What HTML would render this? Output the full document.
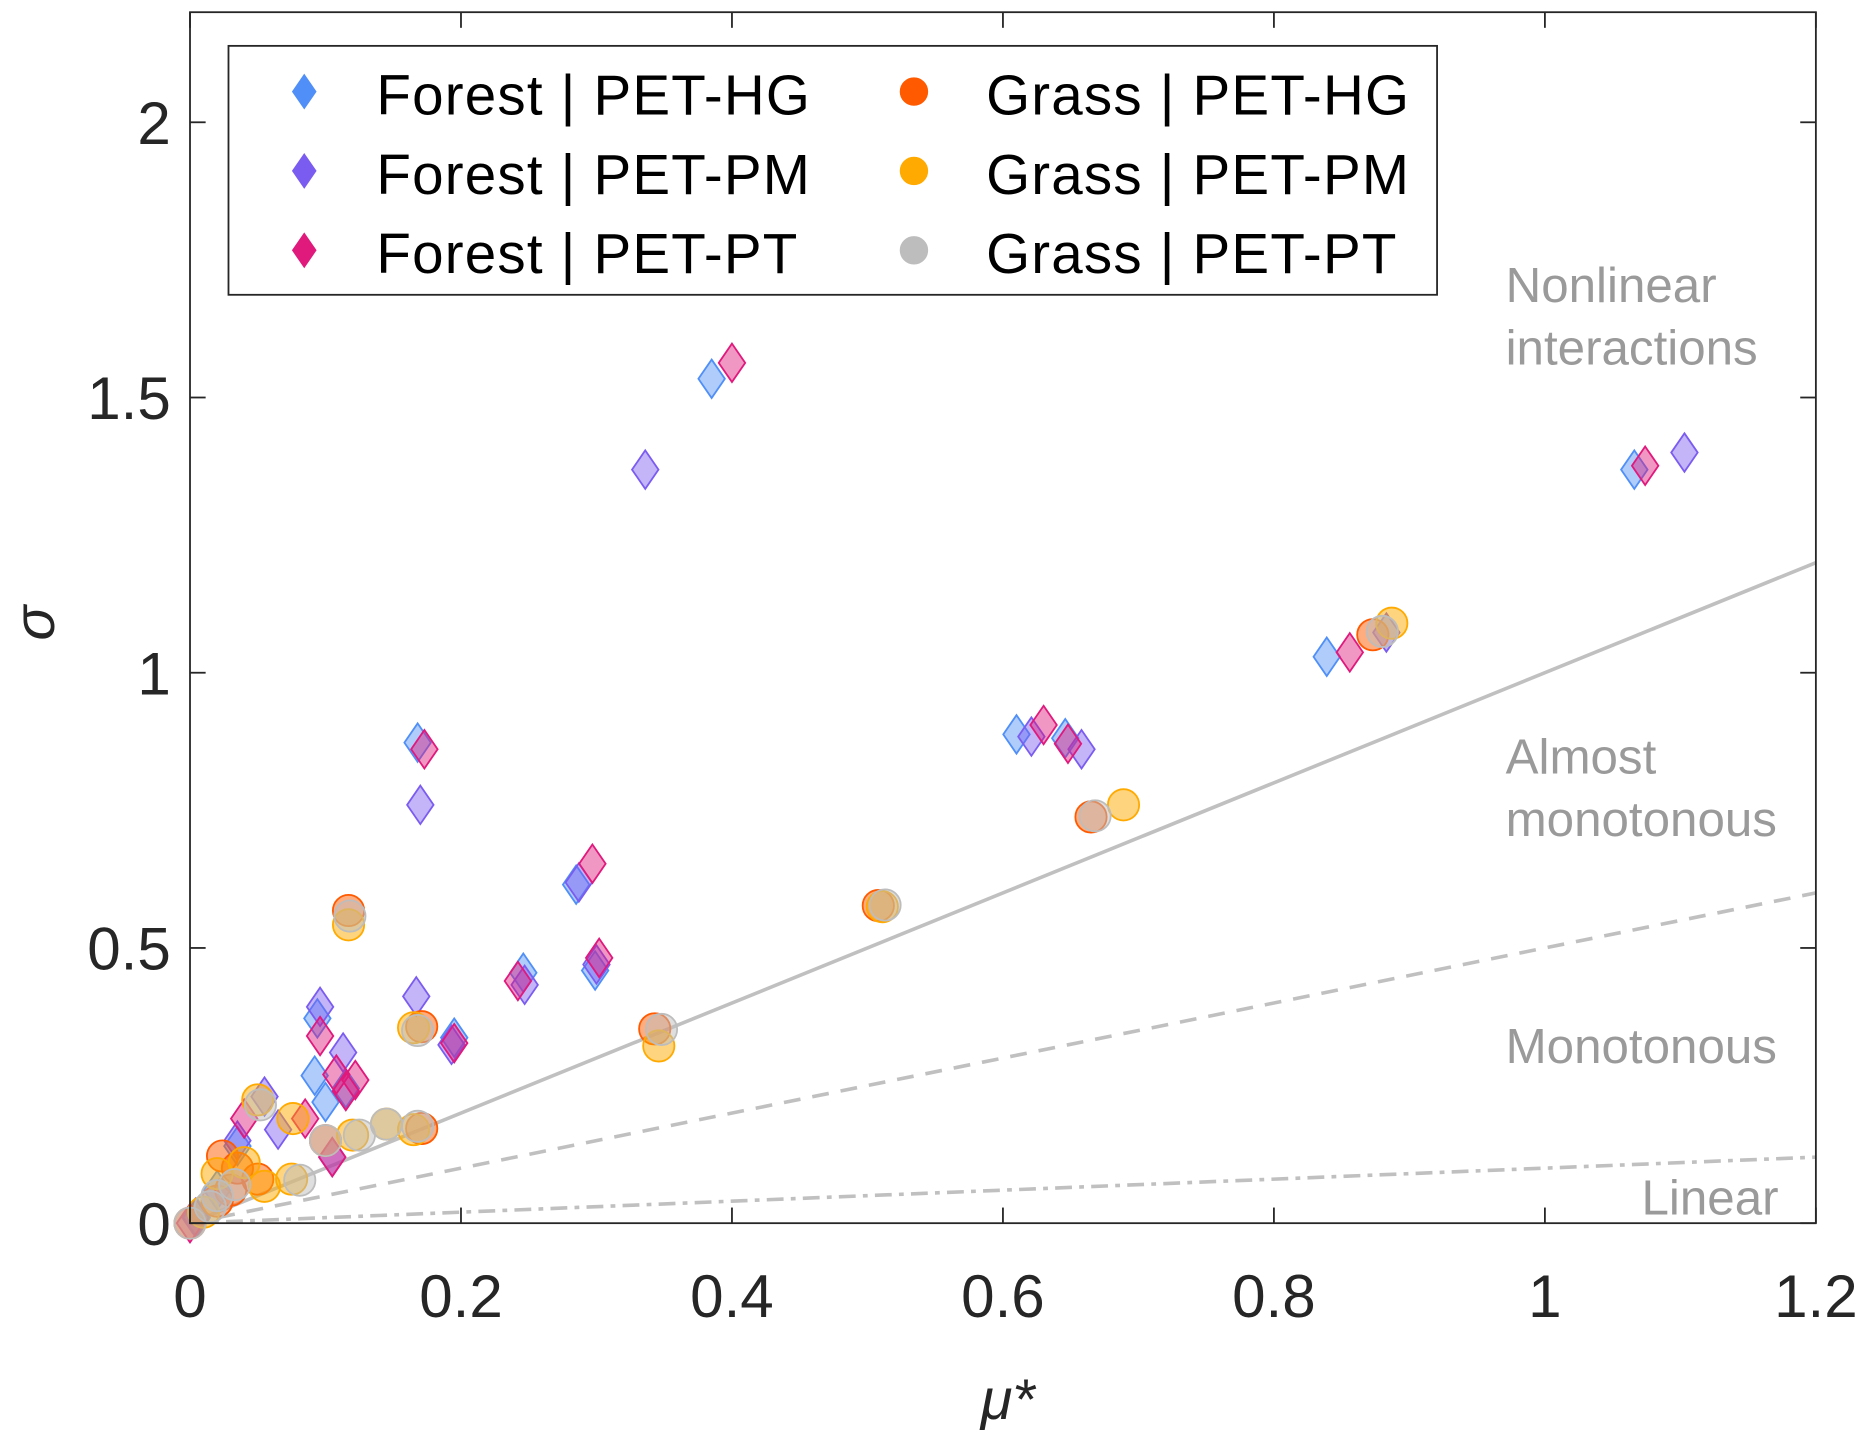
<!DOCTYPE html>
<html><head><meta charset="utf-8"><style>
html,body{margin:0;padding:0;background:#fff}
svg{display:block;font-family:"Liberation Sans",sans-serif}
</style></head><body>
<svg id="chart" width="1876" height="1435" viewBox="0 0 1560 1193" xmlns="http://www.w3.org/2000/svg">
<rect x="0" y="0" width="1560" height="1193" fill="#fff"/>
<g id="refLines"></g>
<g id="regionLabels" fill="#9a9a9a" font-size="41">
<text x="1252" y="251">Nonlinear</text>
<text x="1252" y="303">interactions</text>
<text x="1252" y="643">Almost</text>
<text x="1252" y="695">monotonous</text>
<text x="1252" y="884">Monotonous</text>
<text x="1365" y="1010">Linear</text>
</g>
<g id="marks"></g>
<g id="axes"></g>
<g id="legend"></g>
<text x="838" y="1180" font-size="48" font-style="italic" text-anchor="middle" fill="#262626">μ*</text>
<text transform="translate(45,518) rotate(-90)" font-size="48" font-style="italic" text-anchor="middle" fill="#262626">σ</text>
</svg>
<script>
const xTicks = [0, 0.2, 0.4, 0.6, 0.8, 1, 1.2];
const xTickLabels = ["0", "0.2", "0.4", "0.6", "0.8", "1", "1.2"];
const yTicks = [0, 0.5, 1, 1.5, 2];
const yTickLabels = ["0", "0.5", "1", "1.5", "2"];
const seriesNames = ["Forest | PET-HG","Forest | PET-PM","Forest | PET-PT","Grass | PET-HG","Grass | PET-PM","Grass | PET-PT"];
const forestHG = [[0.385,1.534],[1.066,1.369],[0.839,1.029],[0.610,0.888],[0.646,0.881],[0.168,0.873],[0.246,0.455],[0.299,0.459],[0.195,0.337],[0.285,0.615],[0.094,0.372],[0.092,0.268],[0.100,0.22],[0.115,0.245],[0.035,0.14],[0.02,0.06],[0.005,0.01]];
const forestPM = [[0.336,1.369],[1.103,1.400],[0.883,1.073],[0.658,0.861],[0.621,0.884],[0.170,0.760],[0.167,0.412],[0.287,0.619],[0.247,0.433],[0.300,0.470],[0.193,0.324],[0.096,0.393],[0.113,0.310],[0.055,0.23],[0.065,0.17],[0.105,0.12],[0.035,0.15],[0.004,0.01]];
const forestPT = [[0.400,1.563],[1.074,1.376],[0.856,1.037],[0.630,0.905],[0.648,0.871],[0.173,0.861],[0.297,0.653],[0.302,0.482],[0.242,0.440],[0.195,0.327],[0.096,0.340],[0.108,0.27],[0.122,0.26],[0.115,0.24],[0.085,0.19],[0.04,0.19],[0.105,0.12],[0.0,0.0]];
const grassHG = [[0.873,1.069],[0.665,0.738],[0.508,0.577],[0.117,0.568],[0.343,0.353],[0.171,0.357],[0.171,0.172],[0.024,0.122],[0.035,0.10],[0.05,0.08],[0.02,0.04],[0.0,0.0],[0.10,0.15],[0.03,0.06]];
const grassPM = [[0.887,1.090],[0.689,0.760],[0.511,0.575],[0.117,0.542],[0.346,0.322],[0.165,0.355],[0.165,0.170],[0.050,0.224],[0.076,0.19],[0.055,0.067],[0.020,0.09],[0.04,0.11],[0.12,0.16],[0.145,0.18],[0.075,0.08],[0.01,0.02]];
const grassPT = [[0.880,1.075],[0.668,0.740],[0.513,0.578],[0.118,0.558],[0.348,0.352],[0.168,0.350],[0.168,0.176],[0.052,0.215],[0.081,0.078],[0.033,0.07],[0.10,0.15],[0.125,0.16],[0.145,0.18],[0.015,0.03],[0.0,0.0],[0.02,0.05]];
const allSeries = [forestHG, forestPM, forestPT, grassHG, grassPM, grassPT];
const colors = ["#4f8ff7","#7b5cf0","#e0197d","#ff5a00","#ffaa00","#bdbdbd"];
const shapes = ["diamond","diamond","diamond","circle","circle","circle"];

const NS = "http://www.w3.org/2000/svg";
const X0 = 158, X1 = 1510, Y0 = 1017, YT = 10;
const xMax = 1.2, yMax = 2.2;
const xs = v => X0 + v / xMax * (X1 - X0);
const ys = v => Y0 - v / yMax * (Y0 - YT);
function mk(tag, attrs, parent) {
  const e = document.createElementNS(NS, tag);
  for (const k in attrs) e.setAttribute(k, attrs[k]);
  parent.appendChild(e); return e;
}
const ref = document.getElementById("refLines");
const slopes = [1, 0.5, 0.1];
const dashes = ["none", "14,10", "14,6,4,6"];
const refNames = ["line-nonlinear-boundary","line-monotonous-boundary","line-linear-boundary"];
slopes.forEach((s, i) => {
  const l = mk("line", {x1: xs(0), y1: ys(0), x2: xs(xMax), y2: ys(s * xMax), stroke: "#c0c0c0", "stroke-width": 3, "stroke-dasharray": dashes[i]}, ref);
  
  
});
function drawMarker(shape, color, cx, cy, parent, size) {
  let m;
  if (shape === "diamond") {
    const w = 11 * size, h = 16 * size;
    m = mk("polygon", {points: `${cx},${cy-h} ${cx+w},${cy} ${cx},${cy+h} ${cx-w},${cy}`, fill: color, "fill-opacity": 0.45, stroke: color, "stroke-width": 1.5}, parent);
  } else {
    m = mk("circle", {cx: cx, cy: cy, r: 13 * size, fill: color, "fill-opacity": 0.5, stroke: color, "stroke-width": 1.5}, parent);
  }
  return m;
}
const marks = document.getElementById("marks");
allSeries.forEach((data, si) => {
  data.forEach((p, pi) => {
    const m = drawMarker(shapes[si], colors[si], xs(p[0]), ys(p[1]), marks, 1);
    
    
  });
});
const ax = document.getElementById("axes");
const box = mk("rect", {x: X0, y: YT, width: X1 - X0, height: Y0 - YT, fill: "none", stroke: "#262626", "stroke-width": 1.5}, ax);


xTicks.forEach((t, i) => {
  const x = xs(t);
  mk("line", {x1: x, y1: Y0, x2: x, y2: Y0 - 13, stroke: "#262626", "stroke-width": 1.5}, ax);
  mk("line", {x1: x, y1: YT, x2: x, y2: YT + 13, stroke: "#262626", "stroke-width": 1.5}, ax);
  const tx = mk("text", {x: x, y: 1095, "font-size": 50, "text-anchor": "middle", fill: "#262626"}, ax);
  tx.textContent = xTickLabels[i];
  
  
});
yTicks.forEach((t, i) => {
  const y = ys(t);
  mk("line", {x1: X0, y1: y, x2: X0 + 13, y2: y, stroke: "#262626", "stroke-width": 1.5}, ax);
  mk("line", {x1: X1, y1: y, x2: X1 - 13, y2: y, stroke: "#262626", "stroke-width": 1.5}, ax);
  const tx = mk("text", {x: 142, y: y + 18, "font-size": 50, "text-anchor": "end", fill: "#262626"}, ax);
  tx.textContent = yTickLabels[i];
  
  
});
const lg = document.getElementById("legend");
mk("rect", {x: 190, y: 38, width: 1005, height: 207, fill: "#fff", stroke: "#262626", "stroke-width": 1.5}, lg);
seriesNames.forEach((n, i) => {
  const col = Math.floor(i / 3), row = i % 3;
  const mx = col ? 760 : 253, tx = col ? 820 : 313, y = 78 + row * 66;
  const m = drawMarker(shapes[i], colors[i], mx, y - 2, lg, 0.85);
  m.setAttribute('fill-opacity', '1');
  
  
  const t = mk("text", {x: tx, y: y + 17, "font-size": 47, "letter-spacing": 1, fill: "#000"}, lg);
  t.textContent = n;
  
  
});
</script>
</body></html>
